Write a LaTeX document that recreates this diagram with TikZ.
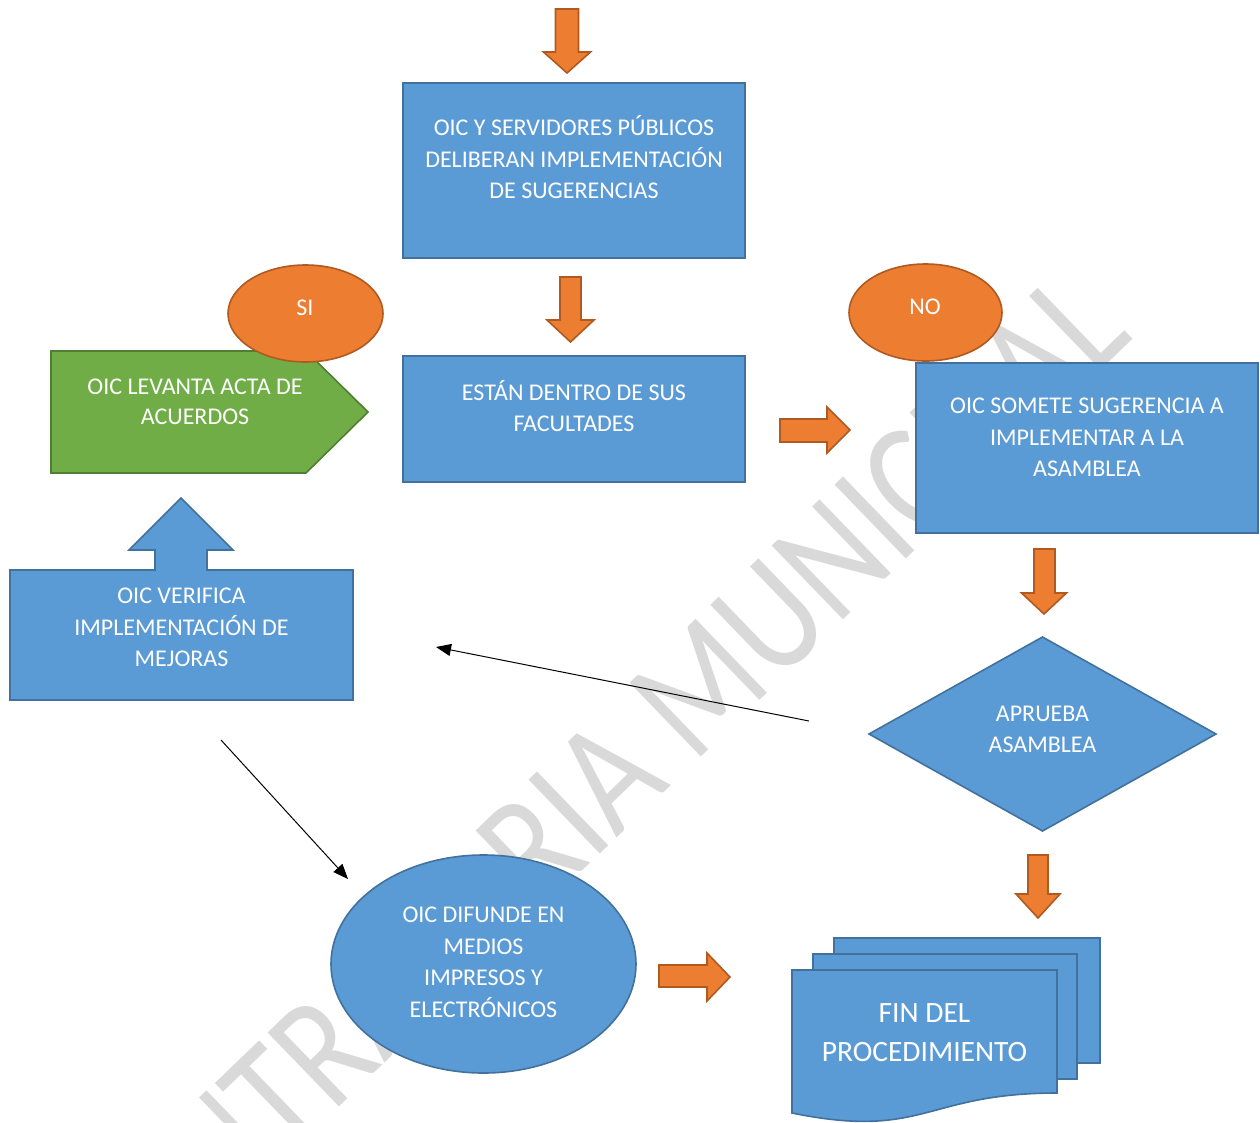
\documentclass[tikz,border=0pt]{standalone}
\usepackage{fontspec}
\setmainfont{Carlito}
\usetikzlibrary{arrows.meta,shapes.geometric}
\definecolor{wblue}{HTML}{5B9BD5}
\definecolor{wblueD}{HTML}{41719C}
\definecolor{worange}{HTML}{ED7D31}
\definecolor{worangeD}{HTML}{AE5A21}
\definecolor{wgreen}{HTML}{70AD47}
\definecolor{wgreenD}{HTML}{507E32}
\definecolor{wmark}{RGB}{217,217,217}
\begin{document}
\begin{tikzpicture}[x=1pt,y=-1pt,
  bluebox/.style={draw=wblueD, fill=wblue, line width=1.6pt},
  orangeshape/.style={draw=worangeD, fill=worange, line width=1.6pt},
  greenshape/.style={draw=wgreenD, fill=wgreen, line width=1.6pt},
  txt/.style={text=white, align=center, inner sep=0pt, font=\fontsize{24}{31.5}\selectfont,
    execute at begin node=\strut, execute at end node=\strut},
  bigtxt/.style={txt, font=\fontsize{29.5}{39}\selectfont},
  thinarrow/.style={draw=black, line width=1pt, -{Triangle[length=15pt,width=12pt]}},
  wmarktxt/.style={text=wmark, inner sep=0pt, font=\fontsize{160}{160}\selectfont}
]
\useasboundingbox (0,0) rectangle (1260,1122);
\fill[white] (0,0) rectangle (1260,1122);

% watermark
\begin{scope}[shift={(1135,338)}, rotate=44]
\node[wmarktxt, anchor=base east, transform shape] (wm) at (0,0) {\scalebox{0.83}[1]{CONTRALORIA MUNICIPAL}};
\end{scope}

% orange block arrows
\draw[orangeshape] (555.5,9) -- (578.5,9) -- (578.5,52) -- (590.5,52) -- (567,73) -- (543.5,52) -- (555.5,52) -- cycle;
\draw[orangeshape] (560,277) -- (581,277) -- (581,320) -- (594,320) -- (570.5,342) -- (547,320) -- (560,320) -- cycle;
\draw[orangeshape] (780,419) -- (827,419) -- (827,407) -- (850,430) -- (827,453) -- (827,442) -- (780,442) -- cycle;
\draw[orangeshape] (1034,549) -- (1055,549) -- (1055,593) -- (1066.5,593) -- (1044,614) -- (1021.5,593) -- (1034,593) -- cycle;
\draw[orangeshape] (1028,855) -- (1048,855) -- (1048,894) -- (1060,894) -- (1038,918) -- (1016,894) -- (1028,894) -- cycle;
\draw[orangeshape] (659,965) -- (707,965) -- (707,953) -- (730,977) -- (707,1001) -- (707,987) -- (659,987) -- cycle;

% boxes
\node[bluebox, rectangle, inner sep=0pt, minimum width=342pt, minimum height=175pt] (b1) at (574,170.5) {};
\node[txt] (b1t) at (574,162) {OIC Y SERVIDORES PÚBLICOS\\DELIBERAN IMPLEMENTACIÓN\\DE SUGERENCIAS};

\node[bluebox, rectangle, inner sep=0pt, minimum width=342pt, minimum height=126pt] (b2) at (574,419) {};
\node[txt] (b2t) at (574,410.7) {ESTÁN DENTRO DE SUS\\FACULTADES};

\node[bluebox, rectangle, inner sep=0pt, minimum width=342pt, minimum height=170pt] (b3) at (1087,448) {};
\node[txt] (b3t) at (1087,442) {OIC SOMETE SUGERENCIA A\\IMPLEMENTAR A LA\\ASAMBLEA};

% green pentagon
\draw[greenshape] (51,351) -- (306,351) -- (368,412) -- (306,473) -- (51,473) -- cycle;
\node[txt, font=\fontsize{24}{30.5}\selectfont] (gt) at (195,406.5) {OIC LEVANTA ACTA DE\\ACUERDOS};

% verifica with up arrow
\draw[bluebox] (10,570) -- (155,570) -- (155,550) -- (129,550) -- (181,498) -- (233,550) -- (207,550) -- (207,570) -- (353,570) -- (353,700) -- (10,700) -- cycle;
\node[txt] (vt) at (181.5,632) {OIC VERIFICA\\IMPLEMENTACIÓN DE\\MEJORAS};

% ellipses
\node[orangeshape, ellipse, inner sep=0pt, minimum width=155pt, minimum height=97pt] (si) at (305.5,313.5) {};
\node[txt] (sit) at (305,309.2) {SI};
\node[orangeshape, ellipse, inner sep=0pt, minimum width=153pt, minimum height=97pt] (no) at (925.5,312.5) {};
\node[txt] (not) at (925,308.2) {NO};

% diamond
\draw[bluebox] (869,734) -- (1042.5,637) -- (1216,734) -- (1042.5,831) -- cycle;
\node[txt] (dt) at (1042.5,734) {APRUEBA\\ASAMBLEA};

% difunde ellipse
\node[bluebox, ellipse, inner sep=0pt, minimum width=305pt, minimum height=218pt] (dif) at (483.5,964) {};
\node[txt] (dift) at (483.5,967) {OIC DIFUNDE EN\\MEDIOS\\IMPRESOS Y\\ELECTRÓNICOS};

% multidocument
\draw[bluebox] (834,938) rectangle (1100,1063);
\draw[bluebox] (813,954) rectangle (1077,1079);
\draw[bluebox] (792,970) -- (1057,970) -- (1057,1093) .. controls (924.5,1093) and (924.5,1140) .. (792,1113) -- cycle;
\node[bigtxt] (fin) at (924.5,1038) {FIN DEL\\PROCEDIMIENTO};

% thin arrows
\coordinate (c1s) at (221,740);
\coordinate (c1e) at (348,879);
\coordinate (c2s) at (809,721);
\coordinate (c2e) at (436,647);
\draw[thinarrow] (c1s) -- (c1e);
\draw[thinarrow] (c2s) -- (c2e);
\end{tikzpicture}
\end{document}
